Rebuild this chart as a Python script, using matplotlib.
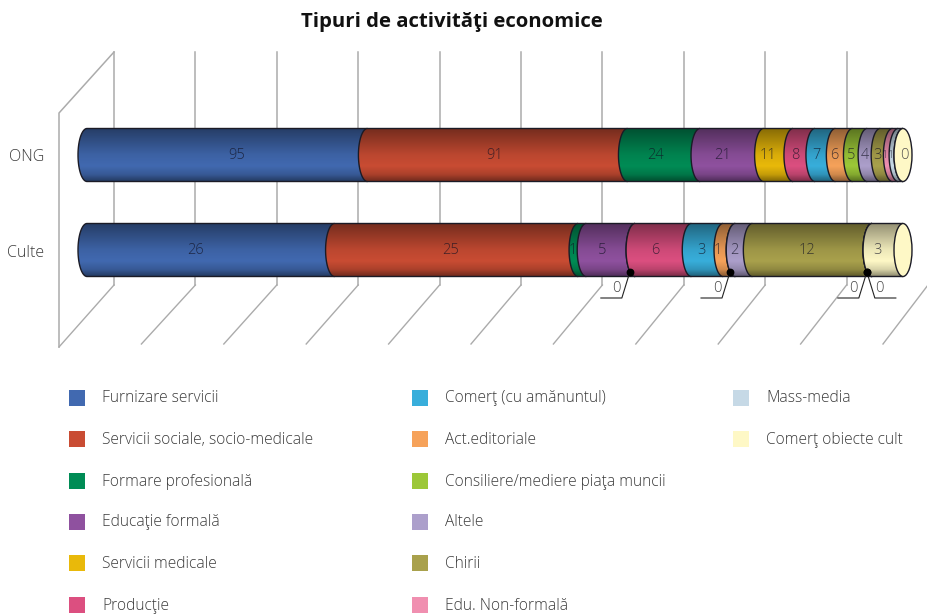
import numpy as np
import matplotlib
matplotlib.use("Agg")
import matplotlib.pyplot as plt
from matplotlib.path import Path
from matplotlib.patches import PathPatch, Rectangle, Ellipse

categories = ["Furnizare servicii", "Servicii sociale, socio-medicale", "Formare profesională",
              "Educaţie formală", "Servicii medicale", "Producţie", "Comerţ (cu amănuntul)",
              "Act.editoriale", "Consiliere/mediere piaţa muncii", "Altele", "Chirii",
              "Edu. Non-formală", "Mass-media", "Comerţ obiecte cult"]
colors = ["#4169B0", "#C94C33", "#008C55", "#8F519F", "#E9B90A", "#DC4F80", "#38AEDB",
          "#F6A25A", "#9CC838", "#AC9FCB", "#A9A14C", "#F08FB0", "#C6D9E6", "#FEF8C6"]
rows = ["ONG", "Culte"]
# printed values
ong_values = [95, 91, 24, 21, 11, 8, 7, 6, 5, 4, 3, 1, 1, 0]
culte_values = [26, 25, 1, 5, 0, 6, 3, 1, 0, 2, 12, 0, 0, 3]
# drawn length of each segment (share of the bar, %)
ong_share = [34.4, 31.9, 8.9, 7.8, 3.6, 2.7, 2.5, 2.1, 1.8, 1.6, 1.5, 0.7, 0.6, 0.0]
culte_share = [30.4, 29.9, 1.0, 6.0, 0.0, 6.9, 3.9, 1.5, 0.0, 2.1, 14.7, 0.0, 0.0, 3.8]
tick_values = np.arange(0, 101, 10)

# where the picture prints each value along the bar (pixels)
ong_label_px = [237, 495, 655, 723, 768, 795, 816, 834, 851, 865, 877, 885, 891, 904]
culte_label_px = [195, 451, 573, 602, 0, 655, 701, 718, 0, 734, 807, 0, 0, 878]

W, H = 927, 614
fig = plt.figure(figsize=(W / 100, H / 100), dpi=100, facecolor="white")
plt.rcParams["font.family"] = ["Open Sans", "DejaVu Sans"]

# Main axes: x in % of the bar, y in category positions
ax = fig.add_axes([0, 0, 1, 1])
PX_X, X0 = 8.16, 87
PX_Y, Y_ONG = 95, 155
ax.set_axis_off()


def xd(px):
    return (px - X0) / PX_X


def yd(py):
    return 1 - (py - Y_ONG) / PX_Y


RX, RY = 9 / PX_X, 26.5 / PX_Y
GRID = "#ababab"

# walls and grid
back_x = 114 + 8.14 * tick_values
front_x = 59 + 8.24 * tick_values
for i, (b, f) in enumerate(zip(back_x, front_x)):
    ax.plot([xd(b), xd(b)], [yd(52), yd(285)], color=GRID, lw=1.1, zorder=1)
    ax.plot([xd(b), xd(f)], [yd(285), yd(347 if i == 0 else 344)], color=GRID, lw=1.0, zorder=1)
ax.plot([xd(114), xd(59), xd(59)], [yd(52), yd(113), yd(347)], color=GRID, lw=1.1, zorder=1)

t = np.linspace(0, 1, 64)
# t = 0 at the top of the cylinder
shade = np.interp(t, [0, 0.5, 0.72, 0.88, 1], [0.58, 0.93, 1.0, 0.85, 0.58])
theta = np.linspace(np.pi / 2, 3 * np.pi / 2, 40)
z = 5


def segment(x0, x1, yc, color):
    global z
    rgb = np.array(matplotlib.colors.to_rgb(color))
    img = (shade[:, None] * rgb)[:, None, :]
    verts = [(x1, yc + RY)] + [(x0 + RX * np.cos(a), yc + RY * np.sin(a)) for a in theta] + [(x1, yc - RY), (x1, yc + RY)]
    path = Path(verts)
    patch = PathPatch(path, facecolor="none", edgecolor="none", zorder=z)
    ax.add_patch(patch)
    im = ax.imshow(img[::-1], extent=[x0 - RX, x1, yc - RY, yc + RY], origin="lower",
                   aspect="auto", zorder=z, interpolation="bilinear")
    im.set_clip_path(patch)
    ax.add_patch(PathPatch(path, facecolor="none", edgecolor="#1b1b26", lw=1.0, zorder=z + 0.5))
    z += 1


def draw_bar(yc, shares, values, label_px):
    total = sum(shares)
    edges = np.concatenate([[0], np.cumsum(shares)]) * 100 / total
    for i in range(len(shares)):
        segment(edges[i], edges[i + 1], yc, colors[i])
    # end cap
    ax.add_patch(Ellipse((edges[-1], yc), 2 * RX, 2 * RY, facecolor=colors[-1], edgecolor="#1b1b26", lw=1.0, zorder=200))
    for i, v in enumerate(values):
        if label_px[i] == 0:
            continue
        narrow = shares[i] < 1.0 and shares[i] > 0
        ax.text(xd(label_px[i]), yc - 0.5 / PX_Y, str(v), ha="center", va="center",
                fontsize=7.5 if narrow else 10.5,
                color="#111122", alpha=0.72, zorder=300, fontweight="light")
    return edges


ong_edges = draw_bar(1, ong_share, ong_values, ong_label_px)
culte_edges = draw_bar(0, culte_share, culte_values, culte_label_px)

# leader lines for the zero values of the lower bar
leaders = [(4, -1), (8, -1), (11, -1), (12, 1)]
for idx, side in leaders:
    if culte_values[idx] != 0:
        continue
    xdot = culte_edges[idx] - RX * 0.58
    ydot = yd(272)
    elbow = xdot + side * 8 / PX_X
    tail = elbow + side * 21 / PX_X
    ax.plot([xdot, elbow, tail], [ydot, yd(298), yd(298)], color="#222222", lw=0.8, zorder=400)
    ax.plot([xdot], [ydot], "o", color="black", ms=4.6, zorder=401)
    ax.text(elbow + side * 5 / PX_X, yd(289), str(culte_values[idx]),
            ha="center", va="center", fontsize=10.5, color="#444444", zorder=402, fontweight="light")

ax.set_xlim(xd(0), xd(W))
ax.set_ylim(yd(H), yd(0))

# category labels
for label, py in zip(rows, [157, 253]):
    ax.text(xd(44), yd(py), label, ha="right", va="center", fontsize=11.5, color="#3a3a3a", fontweight="light")

fig.text(452 / W, 1 - 21.5 / H, "Tipuri de activităţi economice", ha="center", va="center",
         fontsize=14.7, fontweight="bold", color="#111111")

# legend
leg_x = [69, 412, 733]
leg_y = [398, 439, 481, 522, 563, 605]
col_sizes = [6, 6, 2]
k = 0
for cx, n in zip(leg_x, col_sizes):
    for j in range(n):
        fig.add_artist(Rectangle((cx / W, 1 - (leg_y[j] + 8) / H), 16 / W, 16 / H, transform=fig.transFigure,
                                 facecolor=colors[k], edgecolor="none"))
        fig.text((cx + 33) / W, 1 - (leg_y[j] + 0.5) / H, categories[k], ha="left", va="center",
                 fontsize=11.2, color="#3a3a3a", fontweight="light")
        k += 1

fig.savefig("out.png", dpi=100, facecolor="white")
